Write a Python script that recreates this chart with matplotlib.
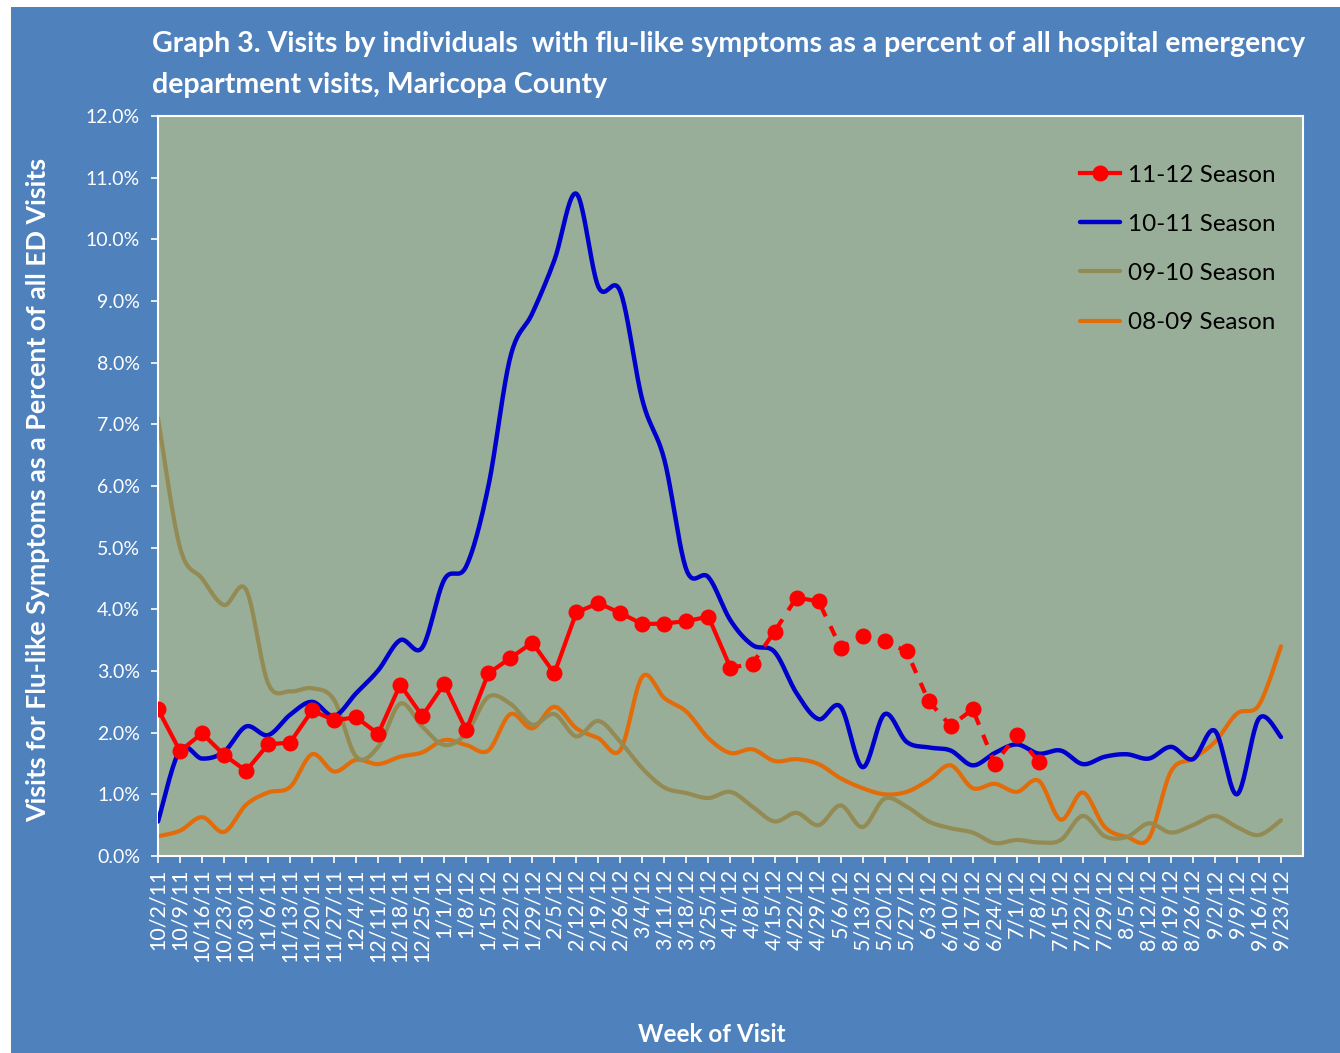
import numpy as np
import matplotlib
matplotlib.use("Agg")
import matplotlib.pyplot as plt
from matplotlib.patches import Rectangle
from matplotlib.ticker import FuncFormatter

weeks = ["10/2/11", "10/9/11", "10/16/11", "10/23/11", "10/30/11", "11/6/11", "11/13/11",
         "11/20/11", "11/27/11", "12/4/11", "12/11/11", "12/18/11", "12/25/11", "1/1/12",
         "1/8/12", "1/15/12", "1/22/12", "1/29/12", "2/5/12", "2/12/12", "2/19/12", "2/26/12",
         "3/4/12", "3/11/12", "3/18/12", "3/25/12", "4/1/12", "4/8/12", "4/15/12", "4/22/12",
         "4/29/12", "5/6/12", "5/13/12", "5/20/12", "5/27/12", "6/3/12", "6/10/12", "6/17/12",
         "6/24/12", "7/1/12", "7/8/12", "7/15/12", "7/22/12", "7/29/12", "8/5/12", "8/12/12",
         "8/19/12", "8/26/12", "9/2/12", "9/9/12", "9/16/12", "9/23/12"]

season_11_12 = [2.38, 1.70, 1.99, 1.64, 1.38, 1.81, 1.84, 2.36, 2.20, 2.25, 1.98, 2.78, 2.27,
                2.79, 2.04, 2.96, 3.21, 3.46, 2.96, 3.95, 4.10, 3.94, 3.76, 3.77, 3.81, 3.88,
                3.05, 3.12, 3.64, 4.19, 4.13, 3.38, 3.57, 3.48, 3.32, 2.51, 2.11, 2.38, 1.50,
                1.96, 1.53]

season_10_11 = [0.56, 1.72, 1.58, 1.69, 2.10, 1.96, 2.29, 2.50, 2.27, 2.64, 3.01, 3.50, 3.38,
                4.48, 4.70, 5.99, 8.09, 8.80, 9.66, 10.74, 9.23, 9.15, 7.39, 6.42, 4.64, 4.52,
                3.82, 3.42, 3.31, 2.64, 2.22, 2.42, 1.44, 2.30, 1.85, 1.76, 1.71, 1.47, 1.67,
                1.81, 1.66, 1.71, 1.49, 1.61, 1.65, 1.58, 1.77, 1.57, 2.03, 1.00, 2.23, 1.93]

season_09_10 = [7.10, 5.00, 4.50, 4.07, 4.32, 2.80, 2.67, 2.72, 2.53, 1.61, 1.77, 2.47, 2.10,
                1.80, 1.99, 2.58, 2.47, 2.13, 2.30, 1.94, 2.19, 1.85, 1.42, 1.11, 1.02, 0.94,
                1.04, 0.80, 0.56, 0.70, 0.50, 0.82, 0.47, 0.93, 0.80, 0.56, 0.45, 0.38, 0.21,
                0.26, 0.22, 0.26, 0.65, 0.32, 0.31, 0.53, 0.38, 0.50, 0.65, 0.47, 0.34, 0.58]

season_08_09 = [0.32, 0.41, 0.63, 0.39, 0.83, 1.03, 1.12, 1.65, 1.37, 1.56, 1.49, 1.61, 1.68,
                1.88, 1.80, 1.71, 2.30, 2.07, 2.42, 2.07, 1.91, 1.72, 2.91, 2.56, 2.34, 1.91,
                1.67, 1.73, 1.54, 1.57, 1.49, 1.26, 1.10, 1.00, 1.04, 1.23, 1.47, 1.10, 1.17,
                1.04, 1.22, 0.59, 1.03, 0.47, 0.31, 0.29, 1.37, 1.58, 1.85, 2.31, 2.45, 3.40]

series_names = ["11-12 Season", "10-11 Season", "09-10 Season", "08-09 Season"]
title_text = ("Graph 3. Visits by individuals  with flu-like symptoms as a percent of all hospital emergency\n"
              "department visits, Maricopa County")
y_label = "Visits for Flu-like Symptoms as a Percent of all ED Visits"
x_label = "Week of Visit"


def smooth(xs, ys, n=24):
    """Excel-style smoothed line (Catmull-Rom Bezier) through the given points."""
    xs = np.asarray(xs, float)
    ys = np.asarray(ys, float)
    P = np.column_stack([xs, ys])
    Pe = np.vstack([P[0], P, P[-1]])
    out = [P[0]]
    t = np.linspace(0, 1, n)[1:, None]
    for i in range(len(P) - 1):
        p0, p1, p2, p3 = Pe[i], Pe[i + 1], Pe[i + 2], Pe[i + 3]
        c1 = p1 + (p2 - p0) / 6.0
        c2 = p2 - (p3 - p1) / 6.0
        seg = ((1 - t) ** 3) * p1 + 3 * ((1 - t) ** 2) * t * c1 + 3 * (1 - t) * t ** 2 * c2 + t ** 3 * p2
        out.extend(seg)
    out = np.array(out)
    return out[:, 0], out[:, 1]


plt.rcParams['font.family'] = ['Lato', 'DejaVu Sans']

BLUE_BG = "#4F81BD"
PLOT_BG = "#98AE98"

fig = plt.figure(figsize=(13.4, 10.53), dpi=100, facecolor="white")
fig.patches.append(Rectangle((11 / 1340, 0), 1 - 11 / 1340, 1 - 7 / 1053, transform=fig.transFigure,
                             facecolor=BLUE_BG, edgecolor="none", zorder=-10))

ax = fig.add_axes([158 / 1340, 1 - 856 / 1053, (1303 - 158) / 1340, (856 - 116) / 1053])
ax.set_zorder(2)
ax.set_facecolor(PLOT_BG)

x = np.arange(len(weeks))

sx, sy = smooth(x, season_08_09)
ax.plot(sx, sy, color="#E36C0A", lw=3.0, solid_capstyle="round", zorder=2, label=series_names[3])
sx, sy = smooth(x, season_09_10)
ax.plot(sx, sy, color="#948A54", lw=3.0, solid_capstyle="round", zorder=2, label=series_names[2])
sx, sy = smooth(x, season_10_11)
ax.plot(sx, sy, color="#0000CC", lw=3.2, solid_capstyle="round", zorder=3, label=series_names[1])

r = np.array(season_11_12)
xr = np.arange(len(r))
split = 26
ax.plot(xr[:split + 1], r[:split + 1], color="#FF0000", lw=3.0, zorder=4)
ax.plot(xr[split:], r[split:], color="#FF0000", lw=3.0, zorder=4, linestyle=(0, (2.6, 2.6)))
ax.plot(xr, r, linestyle="none", marker="o", markersize=10.5, color="#FF0000", zorder=5)
h_red, = ax.plot([], [], color="#FF0000", lw=3.0, marker="o", markersize=10.5, label=series_names[0])

ax.set_xlim(0, 52)
ax.set_ylim(0, 12)
ax.set_xticks(x)
ax.set_xticklabels(weeks, rotation=90, color="white", fontsize=15.5)
ax.set_yticks(np.arange(0, 13, 1))
ax.yaxis.set_major_formatter(FuncFormatter(lambda v, p: f"{v:.1f}%"))
for lab in ax.get_yticklabels():
    lab.set_color("white")
    lab.set_fontsize(14)
ax.tick_params(axis="both", colors="white", length=5, width=1.2, direction="out")
ax.tick_params(axis="y", pad=8)
ax.tick_params(axis="x", pad=4)
for s in ax.spines.values():
    s.set_color("white")
    s.set_linewidth(1.5)

handles = [h_red] + [l for l in ax.get_lines() if l.get_label() in series_names[1:]]
order = {n: i for i, n in enumerate(series_names)}
handles = sorted(handles, key=lambda h: order[h.get_label()])
leg = ax.legend(handles=handles, loc="upper right", bbox_to_anchor=(0.995, 0.964), frameon=False,
                fontsize=17.5, handlelength=1.65, handletextpad=0.3, labelspacing=1.16,
                labelcolor="black")

fig.text(152 / 1340, 1 - 31 / 1053, title_text, color="white", fontsize=20.5, fontweight="bold",
         ha="left", va="top", linespacing=1.72)
fig.text(38 / 1340, 1 - 490 / 1053, y_label, color="white", fontsize=19.3, fontweight="bold",
         rotation=90, ha="center", va="center")
fig.text(712 / 1340, 1 - 1035 / 1053, x_label, color="white", fontsize=17.5, fontweight="bold",
         ha="center", va="center")

fig.savefig("out.png", dpi=100, facecolor=fig.get_facecolor())
